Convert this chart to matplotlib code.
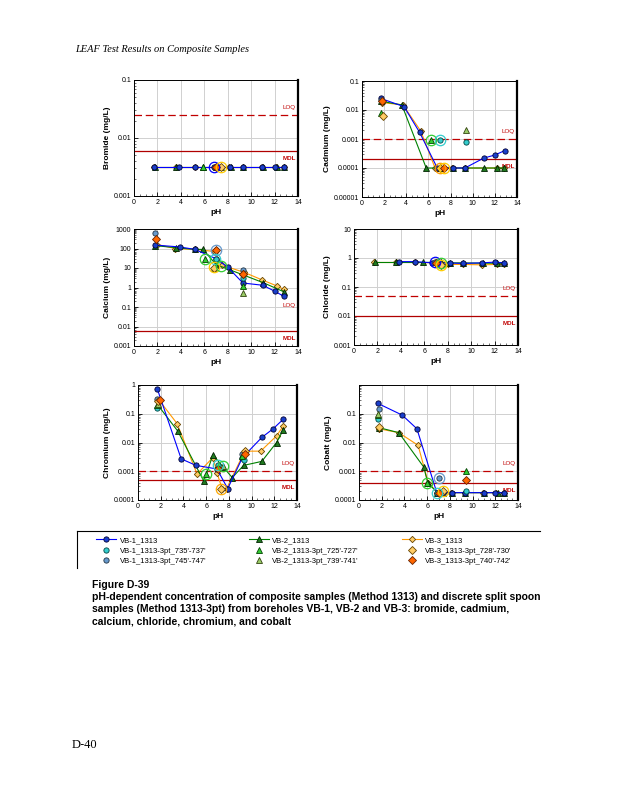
import numpy as np
import matplotlib.pyplot as plt
from matplotlib.lines import Line2D
from matplotlib.ticker import FixedLocator, LogLocator, NullFormatter

plt.rcParams['font.family'] = ['Liberation Sans', 'DejaVu Sans']

# ---- data (pH, concentration mg/L) ----
# Bromide
br_vb1_ph = [1.7, 3.8, 5.2, 6.8, 8.2, 9.3, 10.9, 12.0, 12.8]
br_vb1 = [0.0032] * 9
br_vb2_ph = [1.8, 3.6, 5.9, 7.0, 8.3, 9.3, 11.0, 12.2, 12.8]
br_vb2 = [0.0032] * 9
br_vb3_ph = [1.7, 3.6, 5.2, 7.4, 8.1, 9.3, 10.9, 12.1, 12.8]
br_vb3 = [0.0032] * 9

# Cadmium
cd_vb1_ph = [1.7, 3.8, 5.2, 6.8, 8.2, 9.3, 11.0, 12.0, 12.9]
cd_vb1 = [0.025, 0.013, 0.0017, 0.0001, 0.0001, 0.0001, 0.00022, 0.00028, 0.0004]
cd_vb2_ph = [1.7, 3.6, 5.8, 7.0, 8.2, 9.3, 11.0, 12.2, 12.8]
cd_vb2 = [0.02, 0.015, 0.0001, 0.0001, 0.0001, 0.0001, 0.0001, 0.0001, 0.0001]
cd_vb3_ph = [1.8, 3.7, 5.3, 6.6, 7.4, 8.1, 9.3, 12.2, 12.8]
cd_vb3 = [0.018, 0.015, 0.0019, 0.0001, 0.0001, 0.0001, 0.0001, 0.0001, 0.0001]

# Calcium
ca_vb1_ph = [1.8, 3.9, 5.2, 7.0, 8.0, 9.3, 11.0, 12.0, 12.8]
ca_vb1 = [150, 120, 90, 30, 11, 1.7, 1.3, 0.65, 0.35]
ca_vb2_ph = [1.8, 3.6, 5.2, 5.9, 7.0, 8.2, 11.0, 12.8]
ca_vb2 = [140, 110, 90, 90, 15, 8, 1.8, 0.6]
ca_vb3_ph = [2.0, 3.5, 5.2, 6.9, 7.5, 9.4, 10.9, 12.2, 12.8]
ca_vb3 = [160, 100, 90, 70, 14, 6, 2.5, 1.2, 0.8]

# Chloride
cl_vb1_ph = [3.8, 5.2, 6.7, 7.2, 8.2, 9.3, 10.9, 12.0, 12.8]
cl_vb1 = [0.75, 0.75, 0.68, 0.68, 0.67, 0.65, 0.68, 0.72, 0.68]
cl_vb2_ph = [1.8, 3.6, 5.9, 7.4, 8.2, 9.3, 11.0, 12.2, 12.8]
cl_vb2 = [0.7, 0.7, 0.7, 0.72, 0.68, 0.68, 0.66, 0.66, 0.65]
cl_vb3_ph = [1.7, 3.6, 5.2, 7.0, 7.4, 8.0, 9.3, 10.9, 12.2, 12.8]
cl_vb3 = [0.7, 0.7, 0.7, 0.68, 0.6, 0.6, 0.6, 0.58, 0.6, 0.62]

# Chromium
cr_vb1_ph = [1.7, 3.8, 5.1, 6.95, 7.9, 9.2, 10.9, 11.9, 12.8]
cr_vb1 = [0.73, 0.0027, 0.0016, 0.0012, 0.00025, 0.003, 0.015, 0.03, 0.065]
cr_vb2_ph = [1.75, 3.5, 5.8, 6.6, 7.5, 8.3, 9.3, 10.9, 12.2, 12.8]
cr_vb2 = [0.2, 0.025, 0.00045, 0.0037, 0.0014, 0.0006, 0.0016, 0.0022, 0.01, 0.028]
cr_vb3_ph = [1.85, 3.45, 5.2, 6.6, 6.95, 7.4, 7.8, 9.4, 10.8, 12.2, 12.8]
cr_vb3 = [0.3, 0.045, 0.0008, 0.003, 0.0009, 0.00025, 0.00025, 0.005, 0.005, 0.017, 0.038]

# Cobalt
co_vb1_ph = [1.65, 3.8, 5.1, 6.85, 7.4, 8.2, 9.3, 11.0, 12.0, 12.8]
co_vb1 = [0.23, 0.09, 0.03, 0.00018, 0.00018, 0.00018, 0.00018, 0.00018, 0.00018, 0.00018]
co_vb2_ph = [1.75, 3.5, 5.7, 6.05, 6.9, 7.4, 8.2, 9.3, 11.0, 12.2, 12.8]
co_vb2 = [0.033, 0.022, 0.0014, 0.0004, 0.00018, 0.00018, 0.00018, 0.00018, 0.00018, 0.00018, 0.00018]
co_vb3_ph = [1.75, 3.5, 5.2, 6.1, 6.9, 7.4, 8.1, 9.3, 10.9, 12.1, 12.8]
co_vb3 = [0.03, 0.022, 0.008, 0.0004, 0.00018, 0.00018, 0.00018, 0.00018, 0.00018, 0.00018, 0.00018]

# discrete split spoon samples (1313-3pt): pH list, value list per panel
p735_ph = {'br': [7.0], 'cd': [7.0, 9.4], 'ca': [7.0, 9.3], 'cl': [7.0], 'cr': [1.7, 7.0, 9.3], 'co': [1.7, 6.9, 9.4]}
p735 = {'br': [0.0032], 'cd': [0.0009, 0.0008], 'ca': [30, 3], 'cl': [0.7], 'cr': [0.16, 0.0017, 0.0025], 'co': [0.065, 0.00018, 0.0002]}
p745_ph = {'br': [6.9], 'cd': [1.7], 'ca': [1.8, 7.0, 9.3], 'cl': [6.9], 'cr': [1.7, 9.2], 'co': [1.75, 7.0]}
p745 = {'br': [0.0032], 'cd': [0.022], 'ca': [600, 80, 8], 'cl': [0.7], 'cr': [0.32, 0.004], 'co': [0.15, 0.0006]}
p725_ph = {'br': [5.9], 'cd': [1.7, 6.2], 'ca': [6.1, 9.3], 'cl': [7.4], 'cr': [1.7, 6.0, 9.2], 'co': [1.7, 6.0, 9.4]}
p725 = {'br': [0.0032], 'cd': [0.008, 0.0009], 'ca': [30, 1.2], 'cl': [0.7], 'cr': [0.2, 0.0008, 0.0035], 'co': [0.09, 0.0004, 0.001]}
p739_ph = {'br': [7.4], 'cd': [9.4], 'ca': [9.3, 6.8], 'cl': [7.4], 'cr': [1.75, 7.5], 'co': [1.7]}
p739 = {'br': [0.0032], 'cd': [0.002], 'ca': [0.55, 10], 'cl': [0.68], 'cr': [0.22, 0.0015], 'co': [0.1]}
p728_ph = {'br': [7.4], 'cd': [1.9, 7.0], 'ca': [6.8, 9.3], 'cl': [7.4], 'cr': [1.8, 7.3, 9.4], 'co': [1.8, 7.4]}
p728 = {'br': [0.0032], 'cd': [0.006, 0.0001], 'ca': [10, 5], 'cl': [0.58], 'cr': [0.28, 0.00025, 0.005], 'co': [0.035, 0.0002]}
p740_ph = {'br': [7.0], 'cd': [1.8, 7.4], 'ca': [1.9, 7.0, 9.3], 'cl': [7.0], 'cr': [1.9, 7.0, 9.4], 'co': [9.4, 7.0]}
p740 = {'br': [0.0032], 'cd': [0.02, 0.0001], 'ca': [300, 80, 5], 'cl': [0.65], 'cr': [0.3, 0.0012, 0.004], 'co': [0.0005, 0.00018]}

# natural pH points (large open circles): pH, value, colour
nat_ph = {'br': [6.8, 7.4], 'cd': [6.2, 7.0, 7.0, 7.4], 'ca': [7.0, 6.9, 6.1, 6.8, 7.4],
          'cl': [6.9, 7.4, 7.4], 'cr': [6.0, 7.0, 7.5, 7.35], 'co': [7.0, 6.0, 7.4, 6.9]}
nat = {'br': [0.0032, 0.0032], 'cd': [0.0009, 0.0009, 0.0001, 0.0001], 'ca': [80, 30, 30, 11, 13],
       'cl': [0.7, 0.68, 0.58], 'cr': [0.0008, 0.0017, 0.0015, 0.00025], 'co': [0.0006, 0.0004, 0.0002, 0.00018]}
nat_col = {'br': ['#0000ff', '#ffcc00'], 'cd': ['#33cc33', '#33cccc', '#ff9900', '#ffcc00'],
           'ca': ['#6699cc', '#33cccc', '#33cc33', '#ffcc00', '#33cc33'],
           'cl': ['#0000ff', '#33cc33', '#ffcc00'], 'cr': ['#33cc33', '#33cccc', '#33cc33', '#ffaa00'],
           'co': ['#6699cc', '#33cc33', '#ffcc00', '#33cccc']}

# reference lines: (LOQ dashed, MDL solid)
loq = {'br': 0.025, 'cd': 0.001, 'ca': None, 'cl': 0.05, 'cr': 0.001, 'co': 0.001}
mdl = {'br': 0.006, 'cd': 0.0002, 'ca': 0.006, 'cl': 0.01, 'cr': 0.0005, 'co': 0.0004}

panels = [
    ('br', 'Bromide (mg/L)', (1e-3, 0.1), [0.001, 0.01, 0.1], ['0.001', '0.01', '0.1'],
     br_vb1_ph, br_vb1, br_vb2_ph, br_vb2, br_vb3_ph, br_vb3, (134, 80, 298, 196)),
    ('cd', 'Cadmium (mg/L)', (1e-5, 0.1), [1e-5, 1e-4, 1e-3, 1e-2, 0.1], ['0.00001', '0.0001', '0.001', '0.01', '0.1'],
     cd_vb1_ph, cd_vb1, cd_vb2_ph, cd_vb2, cd_vb3_ph, cd_vb3, (362, 81, 517, 197)),
    ('ca', 'Calcium (mg/L)', (1e-3, 1000), [1e-3, 1e-2, 0.1, 1, 10, 100, 1000], ['0.001', '0.01', '0.1', '1', '10', '100', '1000'],
     ca_vb1_ph, ca_vb1, ca_vb2_ph, ca_vb2, ca_vb3_ph, ca_vb3, (134, 229, 298, 346)),
    ('cl', 'Chloride (mg/L)', (1e-3, 10), [1e-3, 1e-2, 0.1, 1, 10], ['0.001', '0.01', '0.1', '1', '10'],
     cl_vb1_ph, cl_vb1, cl_vb2_ph, cl_vb2, cl_vb3_ph, cl_vb3, (354, 229, 518, 345)),
    ('cr', 'Chromium (mg/L)', (1e-4, 1), [1e-4, 1e-3, 1e-2, 0.1, 1], ['0.0001', '0.001', '0.01', '0.1', '1'],
     cr_vb1_ph, cr_vb1, cr_vb2_ph, cr_vb2, cr_vb3_ph, cr_vb3, (138, 385, 297, 500)),
    ('co', 'Cobalt (mg/L)', (1e-4, 1), [1e-4, 1e-3, 1e-2, 0.1], ['0.0001', '0.001', '0.01', '0.1'],
     co_vb1_ph, co_vb1, co_vb2_ph, co_vb2, co_vb3_ph, co_vb3, (359, 385, 518, 500)),
]

W, H = 618, 800
fig = plt.figure(figsize=(W / 100, H / 100), dpi=100)

s1 = dict(color='#0000ff', marker='o', mfc='#1a3fcc', mec='#000033', ms=3.8, lw=0.8, mew=0.6)
s2 = dict(color='#008000', marker='^', mfc='#1f7a1f', mec='#002200', ms=3.8, lw=0.8, mew=0.6)
s3 = dict(color='#ff9900', marker='D', mfc='#ffcc66', mec='#664400', ms=3.2, lw=0.8, mew=0.6)
pts = [
    (p735_ph, p735, dict(marker='o', mfc='#33cccc', mec='#004444')),
    (p745_ph, p745, dict(marker='o', mfc='#6699cc', mec='#223344')),
    (p725_ph, p725, dict(marker='^', mfc='#33cc33', mec='#004400')),
    (p739_ph, p739, dict(marker='^', mfc='#99cc66', mec='#334411')),
    (p728_ph, p728, dict(marker='D', mfc='#ffcc66', mec='#664400')),
    (p740_ph, p740, dict(marker='D', mfc='#ff6600', mec='#662200')),
]

for key, ylab, ylim, yt, ytl, x1, y1, x2, y2, x3, y3, box in panels:
    l, t, r, b = box
    ax = fig.add_axes([l / W, 1 - b / H, (r - l) / W, (b - t) / H])
    ax.set_yscale('log')
    ax.set_xlim(0, 14)
    ax.set_ylim(*ylim)
    ax.grid(True, which='major', color='#d0d0d0', lw=0.7)
    ax.set_axisbelow(True)
    ax.set_xticks(range(0, 15, 2))
    ax.xaxis.set_minor_locator(FixedLocator(np.arange(0, 14.1, 0.5)))
    ax.yaxis.set_minor_locator(LogLocator(base=10, subs=np.arange(2, 10)))
    ax.yaxis.set_minor_formatter(NullFormatter())
    ax.set_yticks(yt)
    ax.set_yticklabels(ytl)
    ax.tick_params(axis='both', which='major', labelsize=5, direction='in', length=3, width=0.6, pad=2)
    ax.tick_params(axis='both', which='minor', direction='in', length=1.5, width=0.4)
    ax.tick_params(top=False, right=False, which='both')
    for sp in ax.spines.values():
        sp.set_linewidth(0.7)
    ax.spines['right'].set_linewidth(1.6)
    ax.set_xlabel('pH', fontsize=6, fontweight='bold', labelpad=2)
    ax.set_ylabel(ylab, fontsize=6, fontweight='bold', labelpad=2)

    if loq[key] is not None:
        ax.axhline(loq[key], color='#c00000', lw=0.9, ls=(0, (6, 3)))
    ax.axhline(mdl[key], color='#b00000', lw=0.9)
    lo, hi = np.log10(ylim)
    f = 10 ** ((hi - lo) * 0.045)
    yl = loq[key] if loq[key] is not None else mdl[key] * 10 ** ((hi - lo) * 0.15)
    ax.text(13.8, yl * f, 'LOQ', color='#c00000', fontsize=4.5, ha='right', va='bottom')
    ax.text(13.8, mdl[key] / f, 'MDL', color='#c00000', fontsize=4.5, ha='right', va='top', fontweight='bold')

    ax.plot(x3, y3, **s3, zorder=3)
    ax.plot(x2, y2, **s2, zorder=3)
    ax.plot(x1, y1, **s1, zorder=3)
    for pph, pv, st in pts:
        ax.plot(pph[key], pv[key], ls='none', ms=3.8, mew=0.6, zorder=4, **st)
    for xx, yy, cc in zip(nat_ph[key], nat[key], nat_col[key]):
        ax.plot(xx, yy, 'o', ms=7.5, mfc='none', mec=cc, mew=0.9, zorder=5)

# legend
handles = [
    Line2D([], [], **s1), Line2D([], [], ls='none', ms=3.8, mew=0.6, **pts[0][2]), Line2D([], [], ls='none', ms=3.8, mew=0.6, **pts[1][2]),
    Line2D([], [], **s2), Line2D([], [], ls='none', ms=3.8, mew=0.6, **pts[2][2]), Line2D([], [], ls='none', ms=3.8, mew=0.6, **pts[3][2]),
    Line2D([], [], **s3), Line2D([], [], ls='none', ms=3.8, mew=0.6, **pts[4][2]), Line2D([], [], ls='none', ms=3.8, mew=0.6, **pts[5][2]),
]
labels = ['VB-1_1313', "VB-1_1313-3pt_735'-737'", "VB-1_1313-3pt_745'-747'",
          'VB-2_1313', "VB-2_1313-3pt_725'-727'", "VB-2_1313-3pt_739'-741'",
          'VB-3_1313', "VB-3_1313-3pt_728'-730'", "VB-3_1313-3pt_740'-742'"]
fig.legend(handles, labels, loc='upper left', bbox_to_anchor=(92 / W, 1 - 533 / H), ncol=3,
           frameon=False, fontsize=5.5, handlelength=2.6, handletextpad=0.5, columnspacing=5.6,
           labelspacing=0.4, borderpad=0)
fig.add_artist(Line2D([77 / W, 540 / W], [1 - 531 / H, 1 - 531 / H], color='black', lw=0.8))
fig.add_artist(Line2D([77 / W, 77 / W], [1 - 531 / H, 1 - 568 / H], color='black', lw=0.8))

# page text
fig.text(75 / W, 1 - 50 / H, 'LEAF Test Results on Composite Samples', family='Liberation Serif',
         style='italic', fontsize=7.5, va='center')
fig.text(92 / W, 1 - 585 / H, 'Figure D-39', fontsize=7.5, fontweight='bold', va='center')
cap = ['pH-dependent concentration of composite samples (Method 1313) and discrete split spoon',
       'samples (Method 1313-3pt) from boreholes VB-1, VB-2 and VB-3: bromide, cadmium,',
       'calcium, chloride, chromium, and cobalt']
for i, line in enumerate(cap):
    fig.text(92 / W, 1 - (597 + 12 * i) / H, line, fontsize=7.5, fontweight='bold', va='center')
fig.text(72 / W, 1 - 745 / H, 'D-40', family='Liberation Serif', fontsize=9, va='center')

fig.savefig('out.png', dpi=100)
